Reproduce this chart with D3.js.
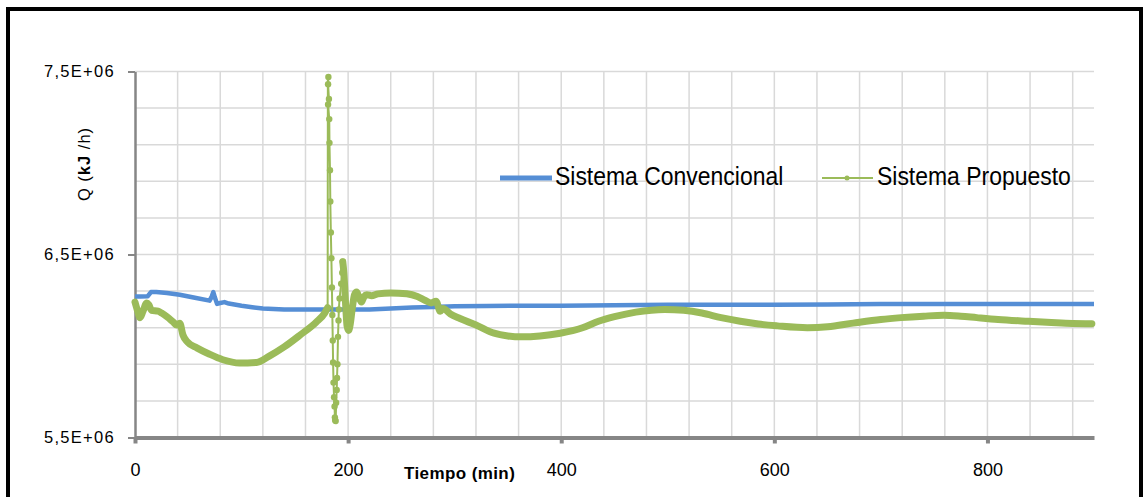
<!DOCTYPE html>
<html>
<head>
<meta charset="utf-8">
<script src="https://cdn.jsdelivr.net/npm/d3@7/dist/d3.min.js"></script>
<style>
  html, body { margin: 0; padding: 0; background: #fff; }
  svg { display: block; }
  text { font-family: "Liberation Sans", Arial, sans-serif; fill: #000; }
</style>
</head>
<body>
<svg id="chart" width="1143" height="497"></svg>
<script>
// Sistema Convencional: tiempo (min) y calor Q (kJ/h)
const tConv = [0, 5, 12, 15, 20, 30, 42, 55, 70, 72, 73.5, 75, 77, 80, 84, 88, 100, 110, 120, 140, 160, 180,
  200, 220, 240, 260, 280, 300, 330, 360, 400, 450, 500, 600, 650, 700, 800, 900];
const qConv = [6.27e6, 6.27e6, 6.272e6, 6.295e6, 6.295e6, 6.29e6, 6.28e6, 6.265e6, 6.248e6, 6.27e6, 6.295e6,
  6.265e6, 6.23e6, 6.235e6, 6.24e6, 6.232e6, 6.22e6, 6.212e6, 6.205e6, 6.2e6, 6.2e6, 6.2e6,
  6.2e6, 6.2e6, 6.205e6, 6.21e6, 6.213e6, 6.217e6, 6.218e6, 6.22e6, 6.22e6, 6.222e6, 6.225e6, 6.226e6,
  6.227e6, 6.23e6, 6.23e6, 6.23e6];

// Sistema Propuesto, tramo inicial (0 - 181 min)
const tProp1 = [0, 2, 4.7, 7.5, 11, 13, 15.5, 21.6, 25, 30, 36, 39, 42, 45, 49.5, 58, 70, 82.5, 98, 114, 126,
  140, 155, 170, 178, 180.8];
const qProp1 = [6.24e6, 6.2e6, 6.155e6, 6.19e6, 6.235e6, 6.225e6, 6.195e6, 6.19e6, 6.18e6, 6.16e6, 6.13e6,
  6.115e6, 6.125e6, 6.06e6, 6.02e6, 5.99e6, 5.955e6, 5.925e6, 5.907e6, 5.91e6, 5.945e6, 5.995e6,
  6.06e6, 6.13e6, 6.18e6, 6.21e6];

// Sistema Propuesto, pico transitorio (181 - 195 min)
const tPico = [180.8, 181.0, 181.5, 181.2, 182.0, 181.2, 182.3, 182.5, 183.0, 183.3, 183.8, 184.3, 184.8,
  185.2, 185.6, 185.9, 186.3, 186.8, 187.3, 187.6, 187.8, 188.3, 188.8, 189.3, 189.6, 190.0, 190.5,
  191.0, 191.3, 192.0, 193.5, 194.5, 195.0];
const qPico = [6.21e6, 7.48e6, 7.47e6, 7.43e6, 7.35e6, 7.32e6, 7.24e6, 7.11e6, 6.96e6, 6.79e6, 6.62e6,
  6.48e6, 6.32e6, 6.17e6, 6.03e6, 5.91e6, 5.8e6, 5.72e6, 5.67e6, 5.61e6, 5.595e6, 5.59e6, 5.69e6,
  5.76e6, 5.825e6, 5.9e6, 6.05e6, 6.14e6, 6.2e6, 6.26e6, 6.34e6, 6.4e6, 6.46e6];

// Sistema Propuesto, tramo final (195 - 900 min)
const tProp2 = [195, 196, 197, 198, 199, 200.5, 202, 204, 206, 208, 210, 212.5, 215, 217.5, 222, 228, 240,
  255, 265, 272, 278, 282.5, 286.5, 289, 296, 305, 320, 337, 350, 363, 380, 399, 420, 435, 450, 470,
  497, 515, 532, 550, 568, 585, 603, 631, 650, 674, 700, 719, 740, 759, 775, 790, 810, 838, 860, 880, 898];
const qProp2 = [6.46e6, 6.4e6, 6.3e6, 6.19e6, 6.11e6, 6.085e6, 6.12e6, 6.21e6, 6.28e6, 6.295e6, 6.27e6,
  6.24e6, 6.27e6, 6.28e6, 6.275e6, 6.285e6, 6.29e6, 6.285e6, 6.27e6, 6.25e6, 6.235e6, 6.245e6,
  6.19e6, 6.205e6, 6.175e6, 6.15e6, 6.115e6, 6.07e6, 6.055e6, 6.05e6, 6.055e6, 6.07e6, 6.1e6,
  6.135e6, 6.16e6, 6.185e6, 6.2e6, 6.195e6, 6.18e6, 6.155e6, 6.135e6, 6.12e6, 6.11e6, 6.1e6, 6.105e6,
  6.125e6, 6.145e6, 6.155e6, 6.163e6, 6.168e6, 6.163e6, 6.155e6, 6.145e6, 6.135e6, 6.128e6,
  6.123e6, 6.122e6];

// Ejes
const xTicks = [0, 200, 400, 600, 800];
const xTickLabels = ["0", "200", "400", "600", "800"];
const yTicks = [5.5e6, 6.5e6, 7.5e6];
const yTickLabels = ["5,5E+06", "6,5E+06", "7,5E+06"];
const seriesNames = ["Sistema Convencional", "Sistema Propuesto"];

const colConv = "#558ed5";
const colProp = "#9bbb59";
const axisCol = "#868686";
const gridCol = "#d9d9d9";

const svg = d3.select("#chart");

const x = d3.scaleLinear().domain([0, 900]).range([135, 1094]);
const y = d3.scaleLinear().domain([5.5e6, 7.5e6]).range([437.5, 71.5]);

// Marco exterior
svg.append("rect").attr("x", 8).attr("y", 9).attr("width", 1133).attr("height", 600)
  .attr("fill", "none").attr("stroke", "#000").attr("stroke-width", 4);

// Cuadrícula
const grid = svg.append("g");
grid.selectAll("line.v").data(d3.range(40, 900, 40)).join("line")
  .attr("x1", d => x(d)).attr("x2", d => x(d))
  .attr("y1", y(7.5e6)).attr("y2", y(5.5e6))
  .attr("stroke", gridCol).attr("stroke-width", 1.5);
grid.selectAll("line.h").data(d3.range(5.7e6, 7.51e6, 0.2e6)).join("line")
  .attr("x1", x(0)).attr("x2", x(900))
  .attr("y1", d => y(d)).attr("y2", d => y(d))
  .attr("stroke", gridCol).attr("stroke-width", 1.5);

// Eje Y
const yAxis = d3.axisLeft(y).tickValues(yTicks).tickSize(7).tickSizeOuter(0).tickPadding(13)
  .tickFormat((d, i) => yTickLabels[i]);
const gy = svg.append("g").attr("transform", `translate(${x(0)},0)`).call(yAxis);
gy.select(".domain").attr("stroke", axisCol).attr("stroke-width", 2.5);
gy.selectAll(".tick line").attr("stroke", axisCol).attr("stroke-width", 2);
gy.selectAll(".tick text").attr("font-size", 16.5).attr("letter-spacing", 1.3)
  .attr("font-family", "Liberation Sans, Arial, sans-serif").attr("fill", "#000");

// Eje X
const xAxis = d3.axisBottom(x).tickValues(xTicks).tickSize(6).tickSizeOuter(0).tickPadding(20)
  .tickFormat((d, i) => xTickLabels[i]);
const gx = svg.append("g").attr("transform", `translate(0,${y(5.5e6)})`).call(xAxis);
gx.select(".domain").attr("stroke", axisCol).attr("stroke-width", 4);
gx.selectAll(".tick line").attr("stroke", axisCol).attr("stroke-width", 4);
gx.selectAll(".tick text").attr("font-size", 18)
  .attr("font-family", "Liberation Sans, Arial, sans-serif").attr("fill", "#000");

// Títulos de ejes
svg.append("text").attr("x", 404).attr("y", 479)
  .attr("font-size", 17).attr("font-weight", "bold").attr("letter-spacing", 0.4)
  .text("Tiempo (min)");
const yt = svg.append("text").attr("transform", "translate(90,164) rotate(-90)")
  .attr("text-anchor", "middle").attr("font-size", 16.5).attr("letter-spacing", 1);
yt.append("tspan").text("Q (");
yt.append("tspan").attr("font-weight", "bold").text("kJ");
yt.append("tspan").text(" /h)");

// Series
const pts = (ts, qs) => ts.map((t, i) => [t, qs[i]]);
const lineSmooth = d3.line().x(d => x(d[0])).y(d => y(d[1])).curve(d3.curveMonotoneX);
const lineLin = d3.line().x(d => x(d[0])).y(d => y(d[1]));

svg.append("path").datum(pts(tConv, qConv)).attr("d", lineLin)
  .attr("fill", "none").attr("stroke", colConv).attr("stroke-width", 4.5)
  .attr("stroke-linejoin", "round");

[pts(tProp1, qProp1), pts(tProp2, qProp2)].forEach(seg => {
  svg.append("path").datum(seg).attr("d", lineSmooth)
    .attr("fill", "none").attr("stroke", colProp).attr("stroke-width", 7)
    .attr("stroke-linejoin", "round").attr("stroke-linecap", "round");
});

const pico = pts(tPico, qPico);
svg.append("path").datum(pico).attr("d", lineLin)
  .attr("fill", "none").attr("stroke", colProp).attr("stroke-width", 2);
svg.append("g").selectAll("circle").data(pico.slice(2)).join("circle")
  .attr("cx", d => x(d[0])).attr("cy", d => y(d[1])).attr("r", 3.2)
  .attr("fill", colProp);

// Leyenda (texto comprimido en horizontal)
const leg = svg.append("g");
leg.append("line").attr("x1", 500).attr("x2", 552).attr("y1", 178).attr("y2", 178)
  .attr("stroke", colConv).attr("stroke-width", 5);
leg.append("text").attr("transform", "translate(555,185) scale(0.9,1)")
  .attr("font-size", 25.5).text(seriesNames[0]);
leg.append("line").attr("x1", 822).attr("x2", 873).attr("y1", 178).attr("y2", 178)
  .attr("stroke", colProp).attr("stroke-width", 2);
leg.append("circle").attr("cx", 847).attr("cy", 178).attr("r", 2.5).attr("fill", colProp);
leg.append("text").attr("transform", "translate(877,185) scale(0.9,1)")
  .attr("font-size", 25.5).text(seriesNames[1]);
</script>
</body>
</html>
